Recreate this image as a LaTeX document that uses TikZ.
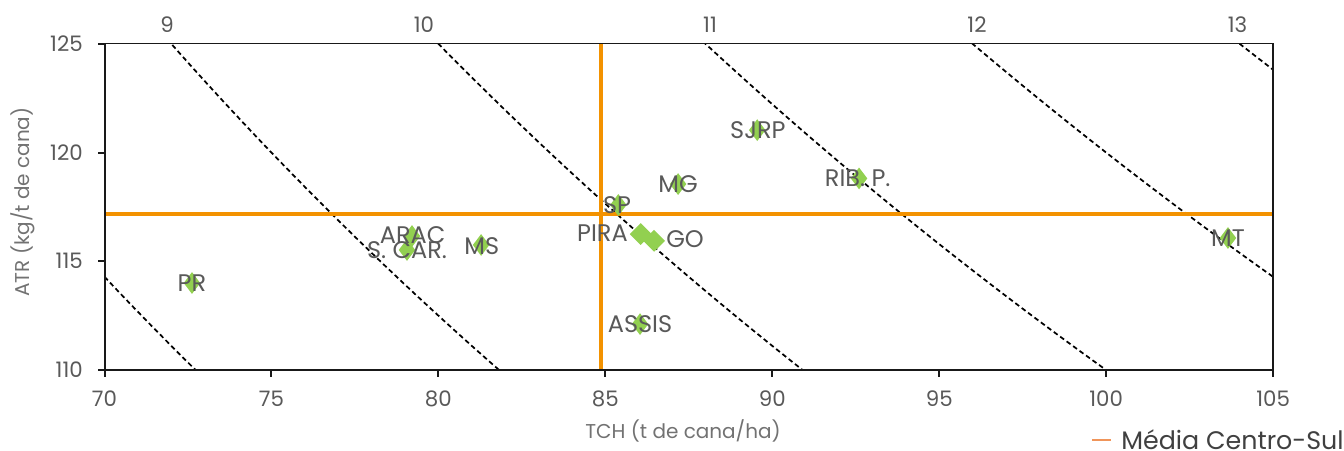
\documentclass[tikz,border=0pt]{standalone}
\usepackage{fontspec}
\setmainfont{Poppins}
\usetikzlibrary{shapes.geometric}
\definecolor{avgorange}{HTML}{F39200}
\definecolor{ptgreen}{HTML}{92D050}
\definecolor{txtgray}{HTML}{595959}
\definecolor{legorange}{HTML}{F0955A}
\definecolor{legtext}{HTML}{404040}
\tikzset{
  isoline/.style={black, line width=1.3pt, dash pattern=on 3.6pt off 2.4pt},
  avgline/.style={avgorange, line width=2.4pt},
  ptmark/.style={diamond, fill=ptgreen, inner sep=0pt, minimum width=12.5pt, minimum height=16.5pt},
  bigmark/.style={ptmark, minimum width=16.5pt, minimum height=16.5pt},
  ptlabel/.style={text=txtgray, inner sep=0pt, font=\fontsize{18}{20}\selectfont},
  ticklabel/.style={text=txtgray, inner sep=0pt, font=\fontsize{16}{18}\selectfont},
  axtitle/.style={text=txtgray!85, inner sep=0pt, font=\fontsize{15}{17}\selectfont},
  axisline/.style={black!90, line width=1.5pt},
  borderline/.style={black!90, line width=1pt}
}
\begin{document}
\begin{tikzpicture}[x=0.75pt, y=-0.75pt]
\useasboundingbox (0,0) rectangle (1344,450);
% data scope: origin at (70,110)
\begin{scope}[xshift=78.375pt, yshift=-277.5pt, x=25.04pt, y=16.31pt]
  \begin{scope}
    \clip (0,0) rectangle (35,15);
    \foreach \k in {8,...,13}
      \draw[isoline] plot[domain=0:35, samples=80, variable=\t] (\t, {\k*1000/(\t+70)-110});
  \end{scope}
  % average lines
  \coordinate (vbot) at (14.87,0);
  \coordinate (vtop) at (14.87,15);
  \coordinate (hleft) at (0,7.17);
  \coordinate (hright) at (35,7.17);
  \draw[avgline] (vbot) -- (vtop);
  \draw[avgline] (hleft) -- (hright);
  % frame
  \coordinate (o) at (0,0);
  \coordinate (br) at (35,0);
  \coordinate (tl) at (0,15);
  \coordinate (tr) at (35,15);
  \draw[borderline] (tl) -- (tr) -- (br);
  \draw[axisline] (tl) -- (o) -- (br);
  \foreach \i in {0,5,...,35} \draw[axisline] (\i,0) -- ++(0,-0.33);
  \foreach \j in {0,5,10,15} \draw[axisline] (0,\j) -- ++(-0.2,0);
  % points
  \node[ptmark] (pr) at (2.62,4.00) {};
  \node[ptmark] (arac) at (9.21,6.16) {};
  \node[ptmark] (scar) at (9.06,5.52) {};
  \node[ptmark] (ms) at (11.28,5.75) {};
  \node[ptmark] (sp) at (15.39,7.59) {};
  \node[bigmark] (pira) at (16.06,6.25) {};
  \node[bigmark] (go) at (16.46,5.94) {};
  \node[ptmark] (mg) at (17.18,8.55) {};
  \node[ptmark] (sjrp) at (19.55,11.03) {};
  \node[ptmark] (ribp) at (22.60,8.81) {};
  \node[ptmark] (assis) at (16.04,2.11) {};
  \node[ptmark] (mt) at (33.65,6.07) {};
  % labels
  \node[ptlabel] (lpr) at (pr) {PR};
  \node[ptlabel] (larac) at ([xshift=0.5pt,yshift=0.5pt]arac) {ARAC};
  \node[ptlabel] (lscar) at (scar) {S. CAR.};
  \node[ptlabel] (lms) at ([xshift=0.5pt,yshift=-0.5pt]ms) {MS};
  \node[ptlabel] (lsp) at ([xshift=-1pt]sp) {SP};
  \node[ptlabel, anchor=east] (lpira) at ([xshift=-9.5pt,yshift=0.5pt]pira) {PIRA};
  \node[ptlabel, anchor=west] (lgo) at ([xshift=9pt,yshift=1pt]go) {GO};
  \node[ptlabel] (lmg) at (mg) {MG};
  \node[ptlabel] (lsjrp) at ([xshift=0.5pt]sjrp) {SJRP};
  \node[ptlabel] (lribp) at ([xshift=-1pt]ribp) {RIB. P.};
  \node[ptlabel] (lassis) at (assis) {ASSIS};
  \node[ptlabel] (lmt) at (mt) {MT};
\end{scope}
% left tick labels
\node[ticklabel, anchor=east] (y110) at (83,370) {110};
\node[ticklabel, anchor=east] (y115) at (83,261.25) {115};
\node[ticklabel, anchor=east] (y120) at (83,152.5) {120};
\node[ticklabel, anchor=east] (y125) at (83,43.75) {125};
% bottom tick labels
\node[ticklabel] (x70) at (104.5,399) {70};
\node[ticklabel] (x75) at (271.5,399) {75};
\node[ticklabel] (x80) at (438.4,399) {80};
\node[ticklabel] (x85) at (605.4,399) {85};
\node[ticklabel] (x90) at (772.3,399) {90};
\node[ticklabel] (x95) at (939.3,399) {95};
\node[ticklabel] (x100) at (1106.2,399) {100};
\node[ticklabel] (x105) at (1273.2,399) {105};
% top labels
\node[ticklabel] (t9) at (167,24.5) {9};
\node[ticklabel] (t10) at (424,24.5) {10};
\node[ticklabel] (t11) at (710,24.5) {11};
\node[ticklabel] (t12) at (977,24.5) {12};
\node[ticklabel] (t13) at (1237.5,24.5) {13};
% axis titles
\node[axtitle] (xt) at (683,431) {TCH (t de cana/ha)};
\node[axtitle, rotate=90] (yt) at (23,202) {ATR (kg/t de cana)};
% legend
\coordinate (lega) at (1092,440);
\coordinate (legb) at (1111,440);
\draw[legorange, line width=1pt] (lega) -- (legb);
\node[text=legtext, anchor=west, inner sep=0pt, font=\fontsize{19}{21}\selectfont] (legt) at (1121,440) {Média Centro-Sul};
\end{tikzpicture}
\end{document}
